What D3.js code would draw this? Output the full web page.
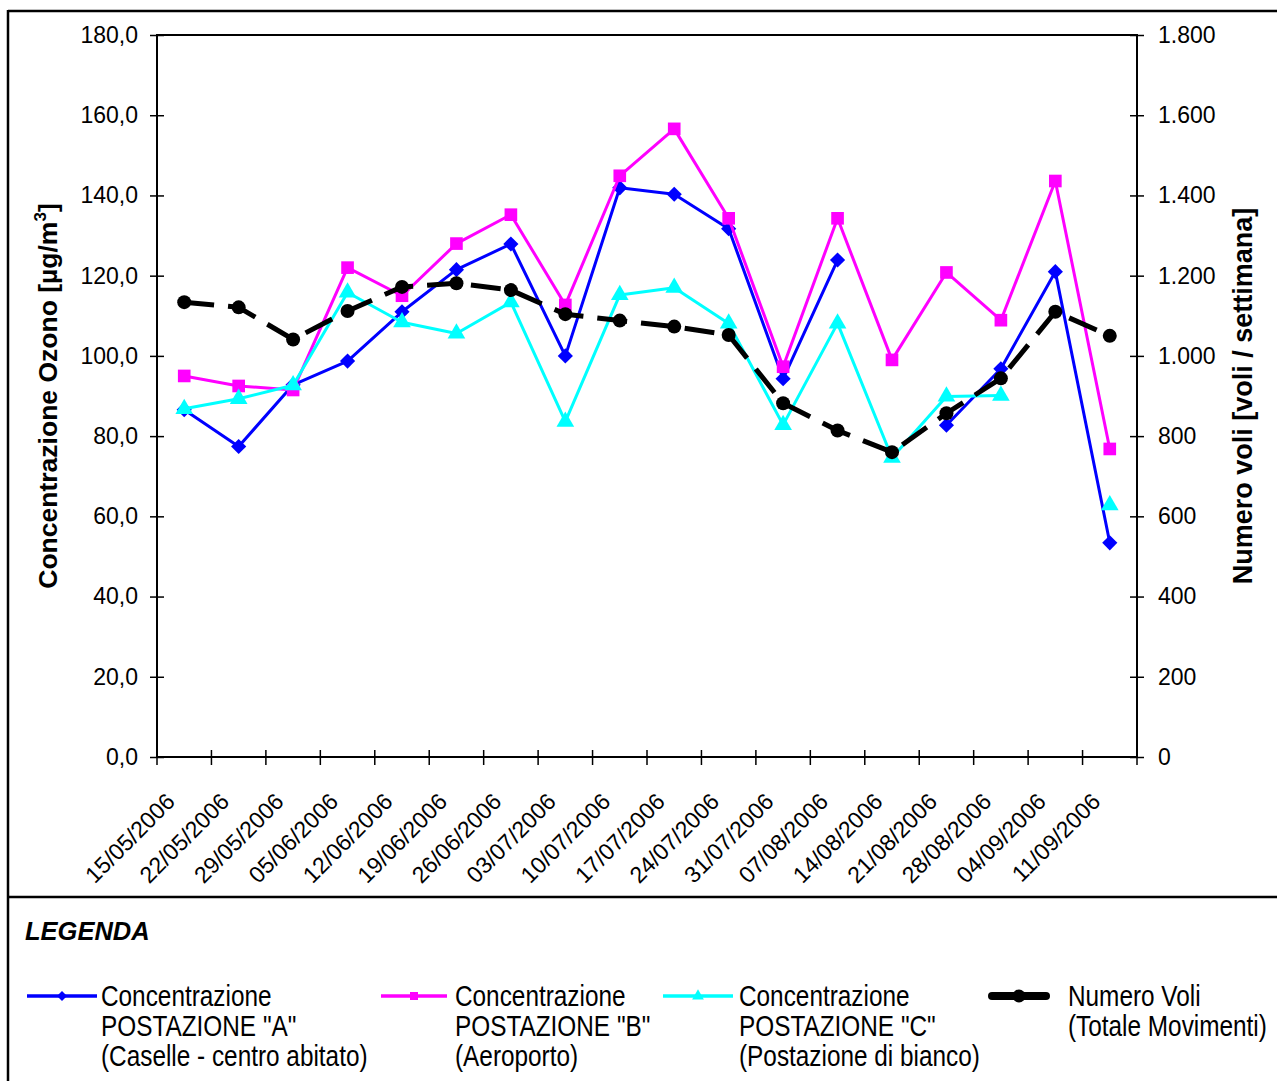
<!DOCTYPE html>
<html>
<head>
<meta charset="utf-8">
<script src="https://cdn.jsdelivr.net/npm/d3@7"></script>
<style>
  html, body { margin: 0; padding: 0; background: #fff; }
  svg { display: block; }
  text { font-family: "Liberation Sans", Arial, sans-serif; fill: #000; }
</style>
</head>
<body>
<svg id="chart" width="1277" height="1081"></svg>
<script>
// Weekly sampling dates
const dates = ["15/05/2006","22/05/2006","29/05/2006","05/06/2006","12/06/2006","19/06/2006",
  "26/06/2006","03/07/2006","10/07/2006","17/07/2006","24/07/2006","31/07/2006",
  "07/08/2006","14/08/2006","21/08/2006","28/08/2006","04/09/2006","11/09/2006"];

// Ozone concentration [µg/m³] at the three stations (null = no measurement)
const postazioneA = [86.6, 77.4, 92.8, 98.7, 111.0, 121.5, 127.9, 100.0, 141.9, 140.3,
  131.7, 94.3, 123.9, null, 82.7, 96.8, 121.0, 53.4];
const postazioneB = [95.0, 92.5, 91.5, 122.0, 115.0, 128.0, 135.2, 112.7, 144.9, 156.6,
  134.3, 97.3, 134.3, 99.0, 120.8, 108.9, 143.6, 76.8];
const postazioneC = [86.8, 89.3, 92.7, 115.8, 108.4, 105.6, 113.4, 83.6, 115.2, 117.0,
  108.1, 82.8, 108.1, 74.6, 89.9, 90.1, null, 62.8];

// Weekly number of flights (secondary axis)
const numeroVoli = [1134, 1121, 1041, 1112, 1172, 1181, 1164, 1104, 1088, 1073,
  1052, 882, 814, 760, 857, 944, 1110, 1050];

const leftTicks = [0, 20, 40, 60, 80, 100, 120, 140, 160, 180];
const rightTicks = [0, 200, 400, 600, 800, 1000, 1200, 1400, 1600, 1800];

const legendLabels = [
  ["Concentrazione", "POSTAZIONE \"A\"", "(Caselle - centro abitato)"],
  ["Concentrazione", "POSTAZIONE \"B\"", "(Aeroporto)"],
  ["Concentrazione", "POSTAZIONE \"C\"", "(Postazione di bianco)"],
  ["Numero Voli", "(Totale Movimenti)"]
];

const itLocale = d3.formatLocale({ decimal: ",", thousands: ".", grouping: [3], currency: ["€", ""] });
const fmtLeft = itLocale.format(".1f");
const fmtRight = itLocale.format(",d");

const svg = d3.select("#chart");

// Page frame
svg.append("line").attr("x1", 8).attr("x2", 1277).attr("y1", 11).attr("y2", 11)
  .attr("stroke", "#000").attr("stroke-width", 2.5);
svg.append("line").attr("x1", 8).attr("x2", 8).attr("y1", 10).attr("y2", 1081)
  .attr("stroke", "#000").attr("stroke-width", 2.5);
svg.append("line").attr("x1", 8).attr("x2", 1277).attr("y1", 897).attr("y2", 897)
  .attr("stroke", "#000").attr("stroke-width", 2.5);

const plot = { left: 157, right: 1137, top: 35, bottom: 757 };

const x = d3.scaleBand().domain(dates).range([plot.left, plot.right]).padding(0);
const cx = d => x(d) + x.bandwidth() / 2;
const yL = d3.scaleLinear().domain([0, 180]).range([plot.bottom, plot.top]);
const yR = d3.scaleLinear().domain([0, 1800]).range([plot.bottom, plot.top]);

// Plot area box
svg.append("rect")
  .attr("x", plot.left).attr("y", plot.top)
  .attr("width", plot.right - plot.left).attr("height", plot.bottom - plot.top)
  .attr("fill", "none").attr("stroke", "#000").attr("stroke-width", 2);

// Left axis
const gL = svg.append("g").attr("transform", `translate(${plot.left},0)`)
  .call(d3.axisLeft(yL).tickValues(leftTicks).tickFormat(fmtLeft).tickSize(7).tickPadding(12));
gL.select(".domain").remove();
gL.selectAll(".tick line").attr("x1", -7).attr("x2", 7).attr("stroke-width", 1.5);
gL.selectAll(".tick text").style("font-size", "23px").style("font-family", "Liberation Sans, Arial, sans-serif");

// Right axis
const gR = svg.append("g").attr("transform", `translate(${plot.right},0)`)
  .call(d3.axisRight(yR).tickValues(rightTicks).tickFormat(fmtRight).tickSize(7).tickPadding(14));
gR.select(".domain").remove();
gR.selectAll(".tick line").attr("x1", -7).attr("x2", 7).attr("stroke-width", 1.5);
gR.selectAll(".tick text").style("font-size", "23px").style("font-family", "Liberation Sans, Arial, sans-serif");

// Category boundary ticks on the x axis
const boundaries = dates.map(d => x(d)).concat([x(dates[dates.length - 1]) + x.bandwidth()]);
svg.append("g").selectAll("line").data(boundaries).join("line")
  .attr("x1", d => d).attr("x2", d => d)
  .attr("y1", plot.bottom - 7).attr("y2", plot.bottom + 8)
  .attr("stroke", "#000").attr("stroke-width", 1.5);

// Rotated date labels
svg.append("g").selectAll("text").data(dates).join("text")
  .attr("transform", d => `translate(${cx(d) - 8},${plot.bottom + 46}) rotate(-45)`)
  .attr("text-anchor", "end")
  .style("font-size", "23px")
  .text(d => d);

// Axis titles
svg.append("text")
  .attr("transform", `translate(57,${(plot.top + plot.bottom) / 2}) rotate(-90)`)
  .attr("text-anchor", "middle")
  .style("font-size", "26.5px").style("font-weight", "bold")
  .call(t => {
    t.append("tspan").text("Concentrazione Ozono [µg/m");
    t.append("tspan").attr("dy", -11).style("font-size", "17px").text("3");
    t.append("tspan").attr("dy", 11).text("]");
  });

svg.append("text")
  .attr("transform", `translate(1252,${(plot.top + plot.bottom) / 2}) rotate(-90)`)
  .attr("text-anchor", "middle")
  .style("font-size", "27px").style("font-weight", "bold")
  .text("Numero voli [voli / settimana]");

// Series
const blue = "#0000ff", magenta = "#ff00ff", cyan = "#00ffff";

const lineL = d3.line().defined(d => d.v != null).x(d => cx(d.k)).y(d => yL(d.v));
const lineR = d3.line().defined(d => d.v != null).x(d => cx(d.k)).y(d => yR(d.v));
const pairs = arr => arr.map((v, i) => ({ k: dates[i], v }));

const diamond = d3.symbol().type(d3.symbolSquare).size(115)();
const square = d3.symbol().type(d3.symbolSquare).size(160)();
const triangle = d3.symbol().type(d3.symbolTriangle).size(135)();

function drawSeries(values, yScale, line, color, width, shape, rot, dash) {
  const data = pairs(values);
  svg.append("path").datum(data)
    .attr("d", line)
    .attr("fill", "none").attr("stroke", color).attr("stroke-width", width)
    .attr("stroke-linejoin", "round")
    .attr("stroke-dasharray", dash || null);
  const g = svg.append("g");
  if (shape === "circle") {
    g.selectAll("circle").data(data.filter(d => d.v != null)).join("circle")
      .attr("cx", d => cx(d.k)).attr("cy", d => yScale(d.v)).attr("r", 7)
      .attr("fill", color);
  } else {
    g.selectAll("path").data(data.filter(d => d.v != null)).join("path")
      .attr("d", shape)
      .attr("transform", d => `translate(${cx(d.k)},${yScale(d.v)}) rotate(${rot})`)
      .attr("fill", color);
  }
}

drawSeries(postazioneA, yL, lineL, blue, 3, diamond, 45);
drawSeries(postazioneB, yL, lineL, magenta, 3, square, 0);
drawSeries(postazioneC, yL, lineL, cyan, 3, triangle, 0);
drawSeries(numeroVoli, yR, lineR, "#000", 5, "circle", 0, "30,14");

// Legend
svg.append("text").attr("x", 25).attr("y", 940)
  .style("font-size", "25.5px").style("font-weight", "bold").style("font-style", "italic")
  .text("LEGENDA");

const legendItems = [
  { x0: 27, x1: 97, tx: 101, color: blue, shape: d3.symbol().type(d3.symbolSquare).size(50)(), rot: 45, w: 3.5 },
  { x0: 381, x1: 447, tx: 455, color: magenta, shape: d3.symbol().type(d3.symbolSquare).size(64)(), rot: 0, w: 3.5 },
  { x0: 663, x1: 733, tx: 739, color: cyan, shape: d3.symbol().type(d3.symbolTriangle).size(60)(), rot: 0, w: 3.5 },
  { x0: 992, x1: 1046, tx: 1068, color: "#000", shape: "circle", rot: 0, w: 8 }
];
const ly = 996;
const squeeze = 0.84;
legendItems.forEach((it, i) => {
  svg.append("line").attr("x1", it.x0).attr("x2", it.x1).attr("y1", ly).attr("y2", ly)
    .attr("stroke", it.color).attr("stroke-width", it.w)
    .attr("stroke-linecap", it.shape === "circle" ? "round" : "butt");
  const mx = (it.x0 + it.x1) / 2;
  if (it.shape === "circle") {
    svg.append("circle").attr("cx", mx).attr("cy", ly).attr("r", 6.5).attr("fill", it.color);
  } else {
    svg.append("path").attr("d", it.shape)
      .attr("transform", `translate(${mx},${ly}) rotate(${it.rot})`)
      .attr("fill", it.color);
  }
  // condensed label block
  const t = svg.append("text")
    .attr("transform", `translate(${it.tx},${ly + 10}) scale(${squeeze},1)`)
    .style("font-size", "29px");
  legendLabels[i].forEach((s, j) => {
    t.append("tspan").attr("x", 0).attr("dy", j === 0 ? 0 : 30).text(s);
  });
});
</script>
</body>
</html>
